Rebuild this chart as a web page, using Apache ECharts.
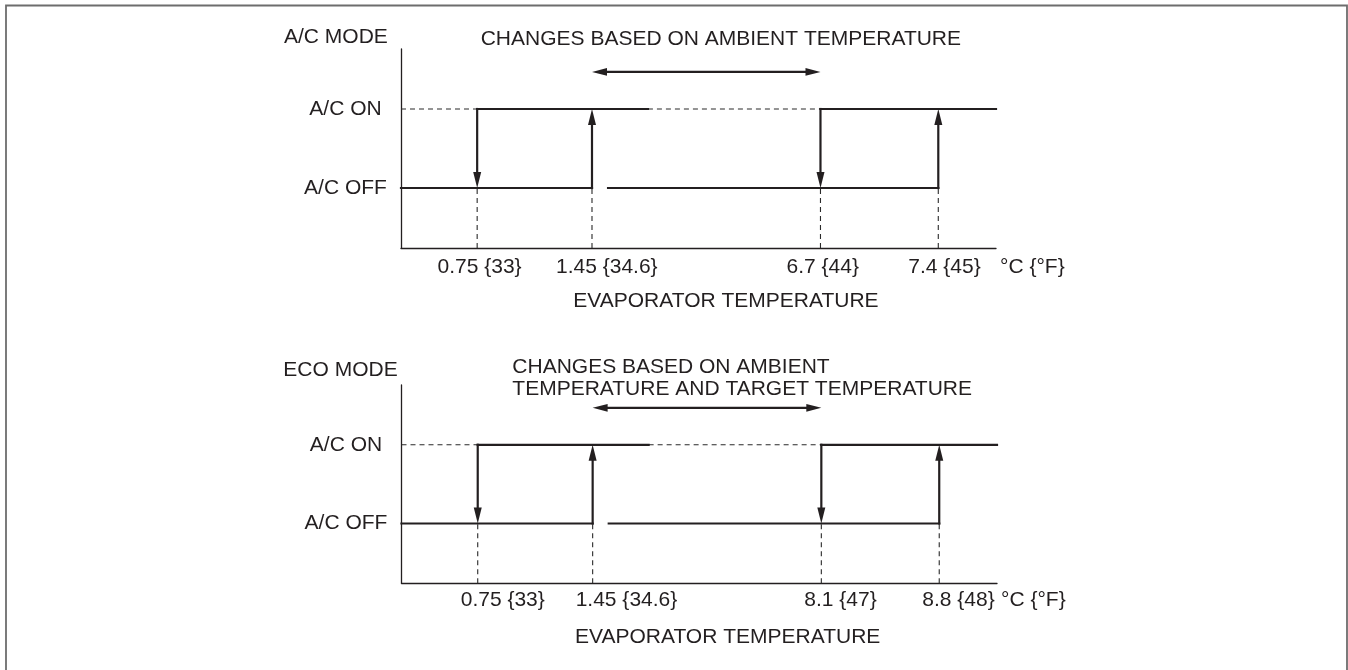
<!DOCTYPE html>
<html>
<head>
<meta charset="utf-8">
<style>
html,body{margin:0;padding:0;background:#fff}
#chart{width:1348px;height:670px}
</style>
<script src="https://cdn.jsdelivr.net/npm/echarts@6/dist/echarts.min.js"></script>
</head>
<body>
<div id="chart"></div>
<script>
// ---------------- data ----------------
const stateLevels = [0, 1];
const stateLabels = ['A/C OFF', 'A/C ON'];
const panelTitles = ['A/C MODE', 'ECO MODE'];
const rangeNotes = ['CHANGES BASED ON AMBIENT TEMPERATURE', 'CHANGES BASED ON AMBIENT\nTEMPERATURE AND TARGET TEMPERATURE'];
const axisTitle = 'EVAPORATOR TEMPERATURE';
const unitLabel = '°C {°F}';
// schematic positions of the switching points along the evaporator-temperature axis (axis runs 0–100)
const switchPoints = [12.8, 32.1, 70.5, 90.3];
const acModeTickLabels = ['0.75 {33}', '1.45 {34.6}', '6.7 {44}', '7.4 {45}'];
const ecoModeTickLabels = ['0.75 {33}', '1.45 {34.6}', '8.1 {47}', '8.8 {48}'];
const offSolid = [[0, 32.1], [34.8, 90.3]];
const onSolid = [[12.8, 41.5], [70.5, 100]];
const onDashed = [[0, 12.8], [41.5, 70.5]];
const turnOffAt = [12.8, 70.5];   // ON -> OFF (down arrows)
const turnOnAt = [32.1, 90.3];    // OFF -> ON (up arrows)
const rangeSpan = [32.1, 70.5];
const rangeLevel = 1.47;
const Y_MIN = -0.76, Y_MAX = 1.76;

// ---------------- style ----------------
const INK = '#231f20';
const FONT = "'Liberation Sans', Arial, Helvetica, sans-serif";
const FS = 21;

function head(tip, ux, uy, o) {
  const bx = tip[0] - ux * o.headLen, by = tip[1] - uy * o.headLen, w = o.headHalf;
  return {type: 'polygon', shape: {points: [[tip[0], tip[1]], [bx - uy * w, by + ux * w], [bx + uy * w, by - ux * w]]},
    style: {fill: o.color}};
}
function makeRender(o) {
  return function (params, api) {
    const p1 = api.coord([api.value(0), api.value(1)]);
    const p2 = api.coord([api.value(2), api.value(3)]);
    const dx = p2[0] - p1[0], dy = p2[1] - p1[1], L = Math.hypot(dx, dy) || 1, ux = dx / L, uy = dy / L;
    let a = p1.slice(), b = p2.slice();
    const children = [];
    if (o.headEnd) { b = [p2[0] - ux * (o.headLen - 3), p2[1] - uy * (o.headLen - 3)]; children.push(head(p2, ux, uy, o)); }
    if (o.headStart) { a = [p1[0] + ux * (o.headLen - 3), p1[1] + uy * (o.headLen - 3)]; children.push(head(p1, -ux, -uy, o)); }
    const style = {stroke: o.color, lineWidth: o.width, lineCap: o.cap || 'butt'};
    if (o.dash) style.lineDash = o.dash;
    children.unshift({type: 'line', shape: {x1: a[0], y1: a[1], x2: b[0], y2: b[1]}, style});
    return {type: 'group', children};
  };
}

const panels = [
  {grid: {left: 401, top: 49, width: 595, height: 199}, ticks: acModeTickLabels, align: 'center', shift: [2.4, 14.8, 2.3, 6.2], dy: 19, namePad: 8},
  {grid: {left: 401.5, top: 385, width: 595.5, height: 198.3}, ticks: ecoModeTickLabels, align: 'left', shift: [-17, -17, -17, -17], dy: 16.7, namePad: 5.7}
];

const grids = [], xAxes = [], yAxes = [], series = [];
panels.forEach((p, i) => {
  grids.push(p.grid);
  xAxes.push({
    gridIndex: i, type: 'value', min: 0, max: 100,
    axisLine: {show: true, onZero: false, lineStyle: {color: INK, width: 1.3}},
    axisTick: {show: false}, axisLabel: {show: false}, splitLine: {show: false},
    name: unitLabel, nameLocation: 'end', nameGap: 4,
    nameTextStyle: {color: INK, fontSize: FS, fontFamily: FONT, verticalAlign: 'top', lineHeight: 22, padding: [p.namePad, 0, 0, 0]}
  });
  yAxes.push({
    gridIndex: i, type: 'value', min: Y_MIN, max: Y_MAX,
    axisLine: {show: true, onZero: false, lineStyle: {color: INK, width: 1.3}},
    axisTick: {show: false}, splitLine: {show: false},
    axisLabel: {customValues: stateLevels, formatter: v => stateLabels[stateLevels.indexOf(v)] || '',
      align: 'center', margin: 55.5, color: INK, fontSize: FS, fontFamily: FONT}
  });
  const base = {type: 'custom', xAxisIndex: i, yAxisIndex: i, silent: true, animation: false, encode: {x: [0, 2], y: [1, 3]}};
  const solidData = offSolid.map(s => [s[0], 0, s[1], 0]).concat(onSolid.map(s => [s[0], 1, s[1], 1]));
  const dashedData = onDashed.map(s => [s[0], 1, s[1], 1]).concat(switchPoints.map(x => [x, Y_MIN, x, 0]));
  const arrowData = turnOffAt.map(x => [x, 1, x, 0]).concat(turnOnAt.map(x => [x, 0, x, 1]));
  const rangeData = [[rangeSpan[0], rangeLevel, rangeSpan[1], rangeLevel]];
  series.push(Object.assign({}, base, {data: dashedData, renderItem: makeRender({color: '#2a2a2a', width: 1.1, dash: [5, 4]})}));
  series.push(Object.assign({}, base, {data: solidData, renderItem: makeRender({color: INK, width: 2.2, cap: 'square'})}));
  series.push(Object.assign({}, base, {data: arrowData, renderItem: makeRender({color: INK, width: 2.2, cap: 'square', headEnd: true, headLen: 16, headHalf: 4})}));
  series.push(Object.assign({}, base, {data: rangeData, renderItem: makeRender({color: INK, width: 2.2, headEnd: true, headStart: true, headLen: 15, headHalf: 3.9})}));
  // evaporator temperature tick labels
  series.push({
    type: 'custom', xAxisIndex: i, yAxisIndex: i, silent: true, animation: false,
    data: switchPoints.map(x => [x, Y_MIN]), encode: {x: 0, y: 1},
    renderItem: (params, api) => {
      const c = api.coord([api.value(0), api.value(1)]);
      return {type: 'text', x: c[0] + p.shift[params.dataIndex], y: c[1] + p.dy,
        style: {text: p.ticks[params.dataIndex], fill: INK, fontSize: FS, fontFamily: FONT, align: p.align, verticalAlign: 'middle'}};
    }
  });
});

function txt(text, x, y) {
  return {type: 'text', x: x, y: y, silent: true,
    style: {text: text, fill: INK, fontSize: FS, fontFamily: FONT, lineHeight: 22, align: 'left', verticalAlign: 'middle'}};
}

const option = {
  backgroundColor: '#fff',
  animation: false,
  grid: grids, xAxis: xAxes, yAxis: yAxes, series: series,
  graphic: [
    {type: 'rect', silent: true, shape: {x: 6, y: 5.5, width: 1341, height: 700}, style: {fill: 'none', stroke: '#6d6d6d', lineWidth: 1.8}},
    txt(panelTitles[0], 284, 37.5),
    txt(rangeNotes[0], 480.7, 39),
    txt(axisTitle, 573.3, 301),
    txt(panelTitles[1], 283.3, 370),
    txt(rangeNotes[1], 512.3, 378),
    txt(axisTitle, 575, 637)
  ]
};

const chart = echarts.init(document.getElementById('chart'), null, {renderer: 'canvas'});
chart.setOption(option);
</script>
</body>
</html>
